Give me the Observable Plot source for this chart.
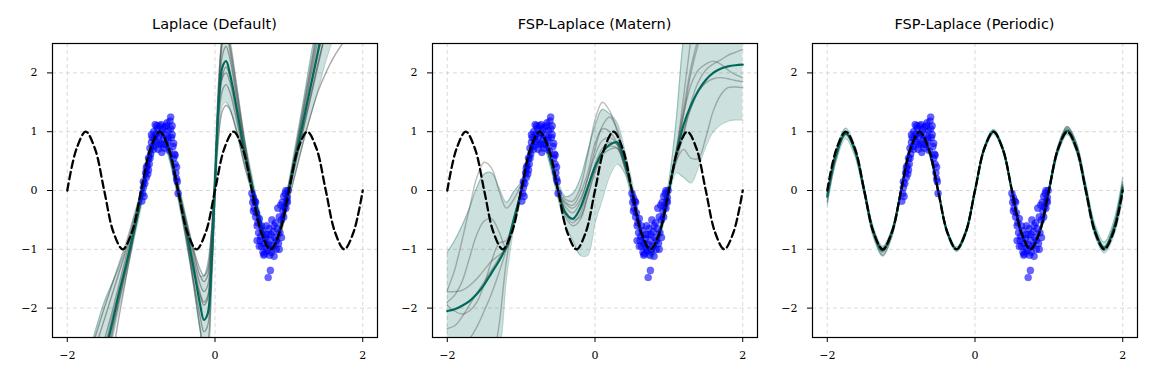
<!DOCTYPE html>
<html><head><meta charset="utf-8">
<script src="https://cdn.jsdelivr.net/npm/d3@7"></script>
<script src="https://cdn.jsdelivr.net/npm/@observablehq/plot@0.6"></script>
<style>
body{margin:0;background:#fff;width:1153px;height:381px;position:relative;overflow:hidden}
.panel{position:absolute;top:0;width:380px;height:381px}
.title{position:absolute;left:52px;width:325px;top:16px;line-height:17px;text-align:center;font-family:"DejaVu Sans",sans-serif;font-size:14.5px;color:#000}
.chart{position:absolute;top:36px;left:0}
.chart svg text{font-family:"DejaVu Serif",serif !important;font-size:11px !important;fill:#000}
</style></head>
<body>
<div id="root"></div>
<script>
// ---------- Observations (shared by all panels) ----------
const ptsX = [-0.99,-0.98,-0.97,-0.96,-0.95,-0.94,-0.93,-0.92,-0.91,-0.90,-0.89,-0.88,-0.87,-0.86,-0.85,-0.84,-0.83,-0.82,-0.81,-0.80,
 -0.79,-0.78,-0.77,-0.76,-0.75,-0.74,-0.73,-0.72,-0.71,-0.70,-0.69,-0.68,-0.67,-0.66,-0.65,-0.64,-0.63,-0.62,-0.61,-0.60,
 -0.59,-0.58,-0.57,-0.56,-0.55,-0.54,-0.53,-0.52,-0.51,-0.50,
 -0.97,-0.93,-0.90,-0.88,-0.86,-0.83,-0.79,-0.76,-0.73,-0.70,-0.66,-0.63,-0.60,-0.58,-0.56,-0.54,-0.52,
 0.50,0.51,0.52,0.53,0.54,0.55,0.56,0.57,0.58,0.59,0.60,0.61,0.62,0.63,0.64,0.65,0.66,0.67,0.68,0.69,
 0.70,0.71,0.72,0.72,0.73,0.74,0.75,0.75,0.76,0.77,0.78,0.79,0.80,0.81,0.82,0.83,0.84,0.85,0.86,0.87,
 0.88,0.89,0.90,0.91,0.92,0.93,0.94,0.95,0.96,0.97,0.98,0.99,
 0.52,0.55,0.57,0.60,0.63,0.66,0.69,0.73,0.76,0.80,0.83,0.87,0.90,0.93,0.96,0.98];
const ptsY = [-0.18,-0.05,0.05,-0.10,0.12,0.30,0.22,0.42,0.28,0.55,0.45,0.72,0.62,0.82,0.90,0.75,1.00,0.88,1.12,0.95,
 0.82,1.05,0.70,0.92,1.10,0.80,0.98,0.65,1.05,0.88,0.72,1.08,0.95,0.78,1.15,0.85,1.02,0.68,1.18,1.25,
 0.90,1.10,0.75,0.55,0.62,0.45,0.30,0.40,0.15,-0.05,
 0.15,0.38,0.35,0.55,0.95,0.70,1.10,0.78,1.12,0.78,1.10,0.90,1.05,0.95,0.80,0.60,0.20,
 -0.05,-0.20,-0.12,-0.30,-0.18,-0.45,-0.38,-0.60,-0.55,-0.72,-0.48,-0.85,-0.78,-0.95,-0.68,-1.05,-0.90,-1.08,-0.82,-0.98,
 -0.60,-1.02,-0.75,-1.48,-0.92,-1.10,-1.36,-0.85,-1.05,-0.50,-0.95,-0.70,-1.12,-0.80,-0.55,-1.00,-0.65,-0.30,-0.90,-0.45,
 -0.72,-0.25,-0.50,-0.20,-0.35,-0.10,-0.28,-0.05,0.00,-0.18,-0.12,0.00,
 -0.35,-0.20,-0.85,-0.95,-0.60,-1.10,-0.75,-0.65,-0.75,-0.60,-0.85,-1.00,-0.80,-0.45,-0.30,-0.20];

// ---------- True function (read at 0.125 steps) ----------
const trueX = [-2,-1.875,-1.75,-1.625,-1.5,-1.375,-1.25,-1.125,-1,-0.875,-0.75,-0.625,-0.5,-0.375,-0.25,-0.125,0,
 0.125,0.25,0.375,0.5,0.625,0.75,0.875,1,1.125,1.25,1.375,1.5,1.625,1.75,1.875,2];
const trueY = [0,0.71,1,0.71,0,-0.71,-1,-0.71,0,0.71,1,0.71,0,-0.71,-1,-0.71,0,
 0.71,1,0.71,0,-0.71,-1,-0.71,0,0.71,1,0.71,0,-0.71,-1,-0.71,0];

// ---------- Panel 1: Laplace (Default) ----------
const x1 = [-1.8,-1.7,-1.6,-1.5,-1.4, -1.3,-1.2,-1.1,-1.0,-0.9, -0.8,-0.75,-0.7,-0.6,-0.5, -0.4,-0.3,-0.2,-0.15,-0.1,
 -0.05,0.0,0.05,0.1,0.15, 0.2,0.3,0.4,0.5,0.6, 0.7,0.78,0.85,0.9,1.0, 1.1,1.2,1.3,1.4,1.5, 1.6,1.7,1.8,1.9,2.0];
const mean1 = [-4.3,-3.8,-3.3,-2.8,-2.3, -1.75,-1.25,-0.7,-0.15,0.45, 0.9,1.0,0.95,0.55,0.0, -0.6,-1.25,-1.95,-2.2,-2.1,
 -1.3,0.1,1.5,2.1,2.2, 2.0,1.35,0.65,0.1,-0.45, -0.88,-1.0,-0.8,-0.55,0.0, 0.6,1.2,1.8,2.4,3.0, 3.6,4.2,4.8,5.4,6.0];
const lo1 = [-5.0,-4.4,-3.8,-3.2,-2.6, -2.0,-1.45,-0.85,-0.28,0.33, 0.78,0.88,0.83,0.43,-0.15, -0.8,-1.55,-2.4,-2.75,-2.7,
 -1.8,-0.2,0.9,1.45,1.5, 1.4,0.95,0.4,-0.05,-0.57, -1.0,-1.12,-0.92,-0.67,-0.15, 0.35,0.85,1.3,1.75,2.2, 2.6,3.0,3.4,3.8,4.2];
const hi1 = [-3.2,-2.75,-2.3,-1.9,-1.6, -1.3,-0.95,-0.5,-0.02,0.57, 1.02,1.12,1.07,0.67,0.15, -0.4,-0.95,-1.45,-1.45,-1.25,
 -0.7,0.5,1.9,2.6,2.85, 2.6,1.75,0.9,0.25,-0.33, -0.76,-0.88,-0.68,-0.43,0.15, 0.85,1.55,2.3,3.0,3.8, 4.5,5.2,5.9,6.6,7.3];
const samp1a = [-3.2,-2.8,-2.4,-2.0,-1.62, -1.25,-0.88,-0.45,0.0,0.52, 0.92,1.0,0.96,0.62,0.1, -0.45,-0.95,-1.35,-1.45,-1.35,
 -0.75,0.2,0.95,1.35,1.45, 1.38,0.98,0.45,0.0,-0.5, -0.92,-1.05,-0.92,-0.7,-0.15, 0.35,0.85,1.3,1.7,2.0, 2.25,2.45,2.62,2.78,2.9];
const samp1b = [-4.9,-4.3,-3.7,-3.1,-2.5, -1.9,-1.35,-0.78,-0.2,0.42, 0.88,0.98,0.93,0.5,-0.08, -0.75,-1.5,-2.35,-2.7,-2.6,
 -1.6,0.0,1.8,2.6,2.75, 2.5,1.7,0.85,0.15,-0.45, -0.85,-0.95,-0.78,-0.5,0.1, 0.75,1.45,2.15,2.85,3.5, 4.1,4.7,5.3,5.9,6.5];
const samp1c = [-4.0,-3.5,-3.0,-2.55,-2.1, -1.6,-1.1,-0.6,-0.08,0.48, 0.9,0.99,0.94,0.58,0.05, -0.5,-1.1,-1.6,-1.72,-1.62,
 -0.95,0.15,1.2,1.7,1.8, 1.68,1.15,0.55,0.05,-0.48, -0.9,-1.02,-0.85,-0.6,-0.05, 0.5,1.05,1.6,2.15,2.7, 3.2,3.7,4.2,4.7,5.2];
const samp1d = [-4.6,-4.05,-3.5,-2.95,-2.4, -1.85,-1.3,-0.72,-0.14,0.44, 0.89,0.99,0.94,0.53,-0.03, -0.65,-1.35,-1.8,-1.95,-1.85,
 -1.15,0.1,1.6,2.3,2.45, 2.25,1.5,0.75,0.12,-0.45, -0.87,-0.98,-0.8,-0.52,0.05, 0.68,1.3,1.95,2.6,3.25, 3.9,4.5,5.1,5.7,6.3];
const samp1e = [-3.5,-3.05,-2.6,-2.2,-1.8, -1.4,-1.0,-0.55,-0.05,0.5, 0.91,1.0,0.95,0.6,0.05, -0.5,-1.0,-1.45,-1.55,-1.45,
 -0.85,0.25,1.45,1.92,2.0, 1.85,1.25,0.6,0.08,-0.47, -0.9,-1.0,-0.82,-0.57,0.0, 0.55,1.1,1.65,2.2,2.7, 3.15,3.55,3.9,4.2,4.5];
const samp1f = [-5.6,-5.0,-4.3,-3.6,-2.9, -2.15,-1.45,-0.78,-0.15,0.45, 0.9,1.0,0.95,0.52,-0.05, -0.7,-1.45,-2.15,-2.4,-2.3,
 -1.45,0.0,1.7,2.5,2.7, 2.4,1.6,0.8,0.15,-0.42, -0.85,-0.97,-0.78,-0.5,0.08, 0.72,1.38,2.05,2.75,3.4, 4.05,4.7,5.35,6.0,6.6];
const samp1g = [-4.2,-3.7,-3.2,-2.7,-2.2, -1.7,-1.2,-0.68,-0.12,0.46, 0.9,1.0,0.95,0.56,0.02, -0.55,-1.2,-1.75,-1.9,-1.8,
 -1.05,0.12,1.35,1.95,2.1, 1.95,1.35,0.68,0.1,-0.46, -0.88,-1.0,-0.82,-0.56,0.02, 0.62,1.22,1.8,2.35,2.85, 3.3,3.7,4.1,4.5,4.9];

// ---------- Panel 2: FSP-Laplace (Matern) ----------
const x2 = [-2.0,-1.9,-1.8,-1.7,-1.6, -1.5,-1.4,-1.3,-1.2,-1.1, -1.0,-0.9,-0.8,-0.75,-0.7, -0.6,-0.5,-0.4,-0.3,-0.2,
 -0.1,0.0,0.1,0.2,0.3, 0.4,0.5,0.6,0.7,0.77, 0.85,0.9,1.0,1.1,1.2, 1.3,1.4,1.5,1.6,1.7, 1.8,1.9,2.0];
const mean2 = [-2.05,-2.02,-1.96,-1.88,-1.76, -1.6,-1.4,-1.2,-0.95,-0.5, -0.02,0.5,0.88,0.95,0.9, 0.5,0.0,-0.38,-0.48,-0.3,
 0.05,0.4,0.65,0.78,0.82, 0.5,0.0,-0.6,-0.98,-1.05, -0.85,-0.6,0.0,0.62,1.12, 1.45,1.7,1.88,2.0,2.07, 2.11,2.13,2.14];
const lo2 = [-3.5,-3.4,-3.3,-3.2,-3.1, -3.0,-2.9,-2.7,-1.5,-0.65, -0.15,0.38,0.76,0.83,0.78, 0.38,-0.14,-0.6,-0.85,-1.1,
 -1.1,-0.55,-0.15,0.25,0.45, 0.3,-0.15,-0.72,-1.1,-1.17, -0.97,-0.72,-0.13,0.3,0.22, 0.13,0.4,0.75,1.0,1.12, 1.18,1.2,1.2];
const hi2 = [-1.05,-0.85,-0.6,-0.3,0.05, 0.28,0.3,0.05,-0.2,-0.02, 0.15,0.62,1.0,1.07,1.02, 0.62,0.15,-0.1,-0.05,0.2,
 0.65,1.1,1.38,1.3,1.15, 0.7,0.15,-0.48,-0.86,-0.93, -0.73,-0.48,0.15,1.2,2.6, 3.3,3.6,3.7,3.7,3.7, 3.7,3.7,3.7];
const samp2a = [-1.7,-1.35,-0.85,-0.3,0.22, 0.48,0.38,0.0,-0.3,-0.15, 0.1,0.55,0.92,0.98,0.93, 0.55,0.08,-0.15,-0.18,0.05,
 0.6,1.2,1.5,1.35,1.0, 0.5,0.0,-0.6,-0.98,-1.05, -0.85,-0.6,-0.05,0.6,1.3, 2.0,2.5,2.9,3.2,3.4, 3.6,3.7,3.8];
const samp2b = [-1.9,-1.78,-1.55,-1.15,-0.75, -0.52,-0.48,-0.7,-0.98,-0.55, 0.0,0.5,0.88,0.95,0.9, 0.5,0.0,-0.28,-0.38,-0.2,
 0.2,0.7,1.1,1.25,1.05, 0.55,0.0,-0.6,-0.98,-1.05, -0.85,-0.6,0.0,0.55,1.0, 1.4,1.68,1.83,1.9,1.92, 1.9,1.87,1.85];
const samp2c = [-1.72,-1.72,-1.7,-1.62,-1.5, -1.35,-1.2,-1.1,-1.0,-0.6, -0.05,0.48,0.87,0.94,0.89, 0.48,-0.02,-0.45,-0.6,-0.5,
 -0.1,0.35,0.65,0.75,0.72, 0.4,-0.05,-0.62,-0.99,-1.06, -0.86,-0.6,0.0,0.65,1.6, 2.6,3.5,4.2,4.8,5.2, 5.5,5.7,5.8];
const samp2d = [-2.35,-2.3,-2.15,-1.95,-1.75, -1.55,-1.35,-1.15,-0.95,-0.5, 0.0,0.5,0.88,0.95,0.9, 0.5,0.02,-0.2,-0.25,-0.05,
 0.3,0.8,1.05,1.0,0.8, 0.45,0.0,-0.6,-0.98,-1.05, -0.85,-0.6,0.0,0.5,0.7, 0.55,0.55,0.9,1.35,1.62, 1.75,1.76,1.75];
const samp2e = [-6.0,-5.5,-5.0,-4.5,-4.0, -3.5,-3.0,-2.3,-1.2,-0.5, 0.0,0.5,0.88,0.95,0.9, 0.5,0.0,-0.35,-0.5,-0.45,
 -0.1,0.3,0.6,0.7,0.72, 0.45,0.0,-0.6,-0.98,-1.05, -0.85,-0.6,0.0,0.65,1.3, 1.8,2.05,2.15,2.2,2.15, 2.05,1.97,1.92];
const samp2f = [-2.55,-2.62,-2.62,-2.52,-2.32, -2.05,-1.75,-1.4,-1.0,-0.52, 0.0,0.5,0.88,0.95,0.9, 0.5,0.0,-0.22,-0.3,-0.15,
 0.2,0.6,0.85,0.9,0.78, 0.4,-0.02,-0.6,-0.98,-1.05, -0.85,-0.6,0.0,0.7,1.4, 2.1,2.6,3.0,3.3,3.5, 3.6,3.7,3.8];
const samp2g = [-1.95,-2.05,-2.1,-2.05,-1.9, -1.6,-1.2,-0.9,-0.85,-0.45, 0.0,0.5,0.88,0.95,0.9, 0.5,0.0,-0.4,-0.55,-0.4,
 0.0,0.45,0.72,0.82,0.78, 0.45,0.0,-0.6,-0.98,-1.05, -0.85,-0.6,0.0,0.5,0.95, 1.5,1.85,2.05,2.15,2.22, 2.3,2.35,2.4];

// ---------- Panel 3: FSP-Laplace (Periodic) ----------
const x3 = trueX;
const mean3 = [-0.1,0.63,0.97,0.68,0.0,-0.7,-1.02,-0.71,0.0,0.7,0.96,0.68,0.0,-0.71,-1.0,-0.71,0.0,
 0.71,1.0,0.71,0.0,-0.7,-0.98,-0.69,0.0,0.71,1.02,0.72,0.02,-0.68,-0.97,-0.66,0.05];
const hi3 = [0.0,0.72,1.06,0.76,0.06,-0.63,-0.95,-0.66,0.04,0.74,1.0,0.72,0.04,-0.67,-0.96,-0.67,0.04,
 0.75,1.04,0.75,0.04,-0.66,-0.94,-0.64,0.06,0.77,1.09,0.8,0.12,-0.58,-0.88,-0.54,0.22];
const lo3 = [-0.25,0.52,0.88,0.58,-0.08,-0.8,-1.12,-0.78,-0.05,0.65,0.91,0.63,-0.04,-0.75,-1.04,-0.75,-0.04,
 0.67,0.96,0.67,-0.04,-0.75,-1.03,-0.75,-0.07,0.64,0.95,0.64,-0.08,-0.78,-1.06,-0.78,-0.12];
const samp3a = [-0.2,0.56,0.95,0.72,0.05,-0.72,-1.1,-0.78,-0.03,0.7,0.96,0.7,0.01,-0.7,-1.0,-0.7,0.01,
 0.71,1.0,0.71,0.0,-0.71,-0.98,-0.7,0.0,0.74,1.08,0.8,0.07,-0.65,-0.98,-0.62,0.15];
const samp3b = [-0.05,0.66,0.98,0.66,-0.03,-0.69,-0.98,-0.68,0.02,0.7,0.95,0.67,0.0,-0.71,-1.0,-0.71,0.0,
 0.7,0.99,0.7,-0.01,-0.7,-0.97,-0.7,-0.03,0.67,0.98,0.68,0.0,-0.7,-0.99,-0.72,-0.05];
const samp3c = [-0.12,0.6,0.99,0.7,-0.02,-0.74,-1.05,-0.72,0.0,0.7,0.95,0.68,0.0,-0.7,-1.0,-0.71,0.0,
 0.71,1.0,0.71,0.0,-0.7,-0.97,-0.68,0.02,0.73,1.05,0.74,0.02,-0.7,-1.02,-0.7,0.08];
const samp3d = [-0.08,0.66,0.96,0.66,-0.01,-0.68,-1.0,-0.7,0.0,0.71,0.96,0.69,0.0,-0.71,-1.0,-0.71,0.0,
 0.71,1.0,0.71,0.0,-0.69,-0.98,-0.7,-0.01,0.7,1.01,0.71,0.0,-0.69,-0.96,-0.65,0.1];

const titles = ["Laplace (Default)", "FSP-Laplace (Matern)", "FSP-Laplace (Periodic)"];
const xTicks = [-2, 0, 2];
const yTicks = [-2, -1, 0, 1, 2];

// ---------- drawing ----------
const TEAL = "#00695C";
const fmt = d => d < 0 ? "\u2212" + Math.abs(d) : String(d);

function panel(title, xg, mean, lo, hi, samples, sampleOpacity) {
  const rows = xg.map((x, i) => ({x, m: mean[i], lo: lo[i], hi: hi[i]}));
  const sRows = samples.flatMap((s, k) => xg.map((x, i) => ({x, y: s[i], k})));
  const tRows = trueX.map((x, i) => ({x, y: trueY[i]}));
  const pts = ptsX.map((x, i) => ({x, y: ptsY[i]}));
  const curve = "catmull-rom";
  return Plot.plot({
    width: 380, height: 345,
    marginLeft: 52, marginRight: 3, marginTop: 7, marginBottom: 44,
    x: {domain: [-2.2, 2.2]},
    y: {domain: [-2.5, 2.5]},
    style: {background: "white", color: "black", fontSize: "11px", fontFamily: "DejaVu Serif"},
    marks: [
      Plot.gridX(xTicks, {stroke: "#bbbbbb", strokeOpacity: 0.7, strokeDasharray: "4,3", strokeWidth: 0.8}),
      Plot.gridY(yTicks, {stroke: "#bbbbbb", strokeOpacity: 0.7, strokeDasharray: "4,3", strokeWidth: 0.8}),
      Plot.areaY(rows, {x: "x", y1: "lo", y2: "hi", fill: TEAL, fillOpacity: 0.2, curve, clip: true}),
      Plot.line(rows, {x: "x", y: "lo", stroke: TEAL, strokeOpacity: 0.3, strokeWidth: 1.2, curve, clip: true}),
      Plot.line(rows, {x: "x", y: "hi", stroke: TEAL, strokeOpacity: 0.3, strokeWidth: 1.2, curve, clip: true}),
      Plot.line(sRows, {x: "x", y: "y", z: "k", stroke: "#333", strokeOpacity: sampleOpacity, strokeWidth: 1.4, curve, clip: true}),
      Plot.line(rows, {x: "x", y: "m", stroke: TEAL, strokeWidth: 2.2, curve, clip: true}),
      Plot.dot(pts, {x: "x", y: "y", r: 3.6, fill: "#0000ff", fillOpacity: 0.6, stroke: "#0000ff", strokeOpacity: 0.3, strokeWidth: 0.5, clip: true}),
      Plot.line(tRows, {x: "x", y: "y", stroke: "black", strokeWidth: 2.3, strokeDasharray: "7.5,4", curve, clip: true}),
      Plot.frame({stroke: "black", strokeWidth: 1.2}),
      Plot.axisX(xTicks, {tickSize: 5, tickPadding: 9, tickFormat: fmt, label: null, fontSize: 11}),
      Plot.axisY(yTicks, {tickSize: 5, tickPadding: 10, tickFormat: fmt, label: null, fontSize: 11})
    ]
  });
}

const specs = [
  [x1, mean1, lo1, hi1, [samp1a, samp1b, samp1c, samp1d, samp1e, samp1f, samp1g], 0.42],
  [x2, mean2, lo2, hi2, [samp2a, samp2b, samp2c, samp2d, samp2e, samp2f, samp2g], 0.32],
  [x3, mean3, lo3, hi3, [samp3a, samp3b, samp3c, samp3d], 0.4]
];
const root = document.getElementById("root");
specs.forEach((s, i) => {
  const div = document.createElement("div");
  div.className = "panel";
  div.style.left = (i * 380) + "px";
  const t = document.createElement("div");
  t.className = "title";
  t.textContent = titles[i];
  div.appendChild(t);
  const c = document.createElement("div");
  c.className = "chart";
  c.appendChild(panel(titles[i], ...s));
  div.appendChild(c);
  root.appendChild(div);
});
</script>
</body></html>
